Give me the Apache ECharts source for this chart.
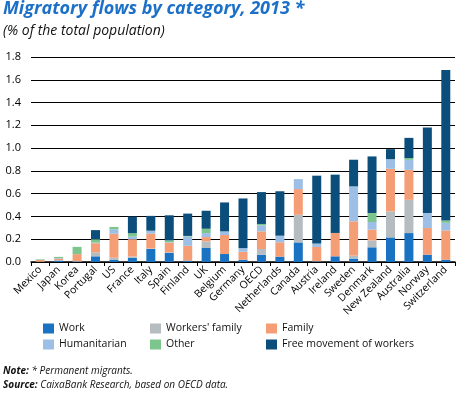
<!DOCTYPE html>
<html>
<head>
<meta charset="utf-8">
<script src="https://cdn.jsdelivr.net/npm/echarts@6/dist/echarts.min.js"></script>
<style>
html,body{margin:0;padding:0;background:#ffffff;}
#c{width:460px;height:393px;}
</style>
</head>
<body>
<div id="c"></div>
<script>
const categories = ['Mexico','Japan','Korea','Portugal','US','France','Italy','Spain','Finland','UK','Belgium','Germany','OECD','Netherlands','Canada','Austria','Ireland','Sweden','Denmark','New Zealand','Australia','Norway','Switzerland'];
const work =          [0.002,0.012,0.003,0.05,0.018,0.038,0.114,0.08,0.012,0.123,0.07,0.02,0.064,0.047,0.172,0.006,0.05,0.03,0.129,0.216,0.254,0.064,0.02];
const workersFamily = [0,0.003,0.006,0.035,0.02,0.01,0.005,0.005,0,0.058,0,0,0.05,0,0.243,0,0,0.026,0.061,0.228,0.292,0,0];
const family =        [0.015,0.015,0.06,0.08,0.21,0.152,0.13,0.085,0.13,0.038,0.167,0.07,0.155,0.126,0.225,0.126,0.205,0.301,0.094,0.374,0.263,0.234,0.257];
const humanitarian =  [0,0.005,0,0.005,0.04,0.023,0.023,0.005,0.082,0.035,0.032,0.032,0.053,0.058,0.088,0.03,0,0.307,0.067,0.085,0.088,0.132,0.067];
const other =         [0.006,0.01,0.064,0.03,0.02,0.03,0.003,0.015,0.005,0.038,0,0,0.012,0,0,0,0,0,0.079,0,0.015,0,0.02];
const freeMovement =  [0,0,0,0.08,0,0.146,0.13,0.22,0.196,0.158,0.254,0.436,0.28,0.39,0,0.596,0.512,0.234,0.497,0.088,0.178,0.751,1.322];

const seriesNames = ['Work',"Workers' family",'Family','Humanitarian','Other','Free movement of workers'];
const seriesData = [work, workersFamily, family, humanitarian, other, freeMovement];
const colors = ['#1a73c2','#b6bdc1','#f59d74','#9dbfe6','#7cc58d','#0b4e7b'];

const font = 'Open Sans';
const chart = echarts.init(document.getElementById('c'), null, {renderer:'canvas'});
const legendBase = {
  orient:'vertical', icon:'rect', itemWidth:11, itemHeight:10, itemGap:5,
  selectedMode:false, padding:0,
  textStyle:{fontFamily:font, fontSize:10.5, fontWeight:'normal', color:'#111'}
};
chart.setOption({
  backgroundColor:'#ffffff',
  animation:false,
  color: colors,
  title:[
    {text:'Migratory flows by category, 2013 *', left:3, top:0, padding:0,
     textStyle:{fontFamily:font, fontSize:18, fontWeight:'bold', fontStyle:'italic', color:'#1d70c8'}},
    {text:'(% of the total population)', left:3, top:24, padding:0,
     textStyle:{fontFamily:font, fontSize:14, fontWeight:'normal', fontStyle:'italic', color:'#111'}},
    {text:'{b|Note:} * Permanent migrants.\n{b|Source:} CaixaBank Research, based on OECD data.', left:3, top:364, padding:0,
     textStyle:{fontFamily:font, fontSize:10, fontStyle:'italic', fontWeight:'normal', color:'#111', lineHeight:14,
       rich:{b:{fontFamily:font, fontSize:10, fontStyle:'italic', fontWeight:'bold', color:'#111'}}}}
  ],
  legend:[
    Object.assign({left:43, top:323, data:['Work','Humanitarian']}, legendBase),
    Object.assign({left:150, top:323, data:["Workers' family",'Other']}, legendBase),
    Object.assign({left:266, top:323, data:['Family','Free movement of workers']}, legendBase)
  ],
  grid:{left:31, right:5, top:57, bottom:131},
  xAxis:{
    type:'category', data:categories,
    axisLine:{lineStyle:{color:'#000', width:1.5}},
    axisTick:{show:true, length:4, lineStyle:{color:'#000'}},
    axisLabel:{rotate:45, fontFamily:font, fontSize:10.5, color:'#000', margin:6, interval:0}
  },
  yAxis:{
    type:'value', min:0, max:1.8, interval:0.2,
    axisLine:{show:false}, axisTick:{show:false},
    splitLine:{lineStyle:{color:'#000', width:1}},
    axisLabel:{fontFamily:font, fontSize:11, color:'#000', margin:10, formatter:v=>v.toFixed(1)}
  },
  series: seriesNames.map((n,i)=>({
    name:n, type:'bar', stack:'total', barWidth:9, data:seriesData[i],
    itemStyle:{color:colors[i]}
  }))
});
</script>
</body>
</html>
